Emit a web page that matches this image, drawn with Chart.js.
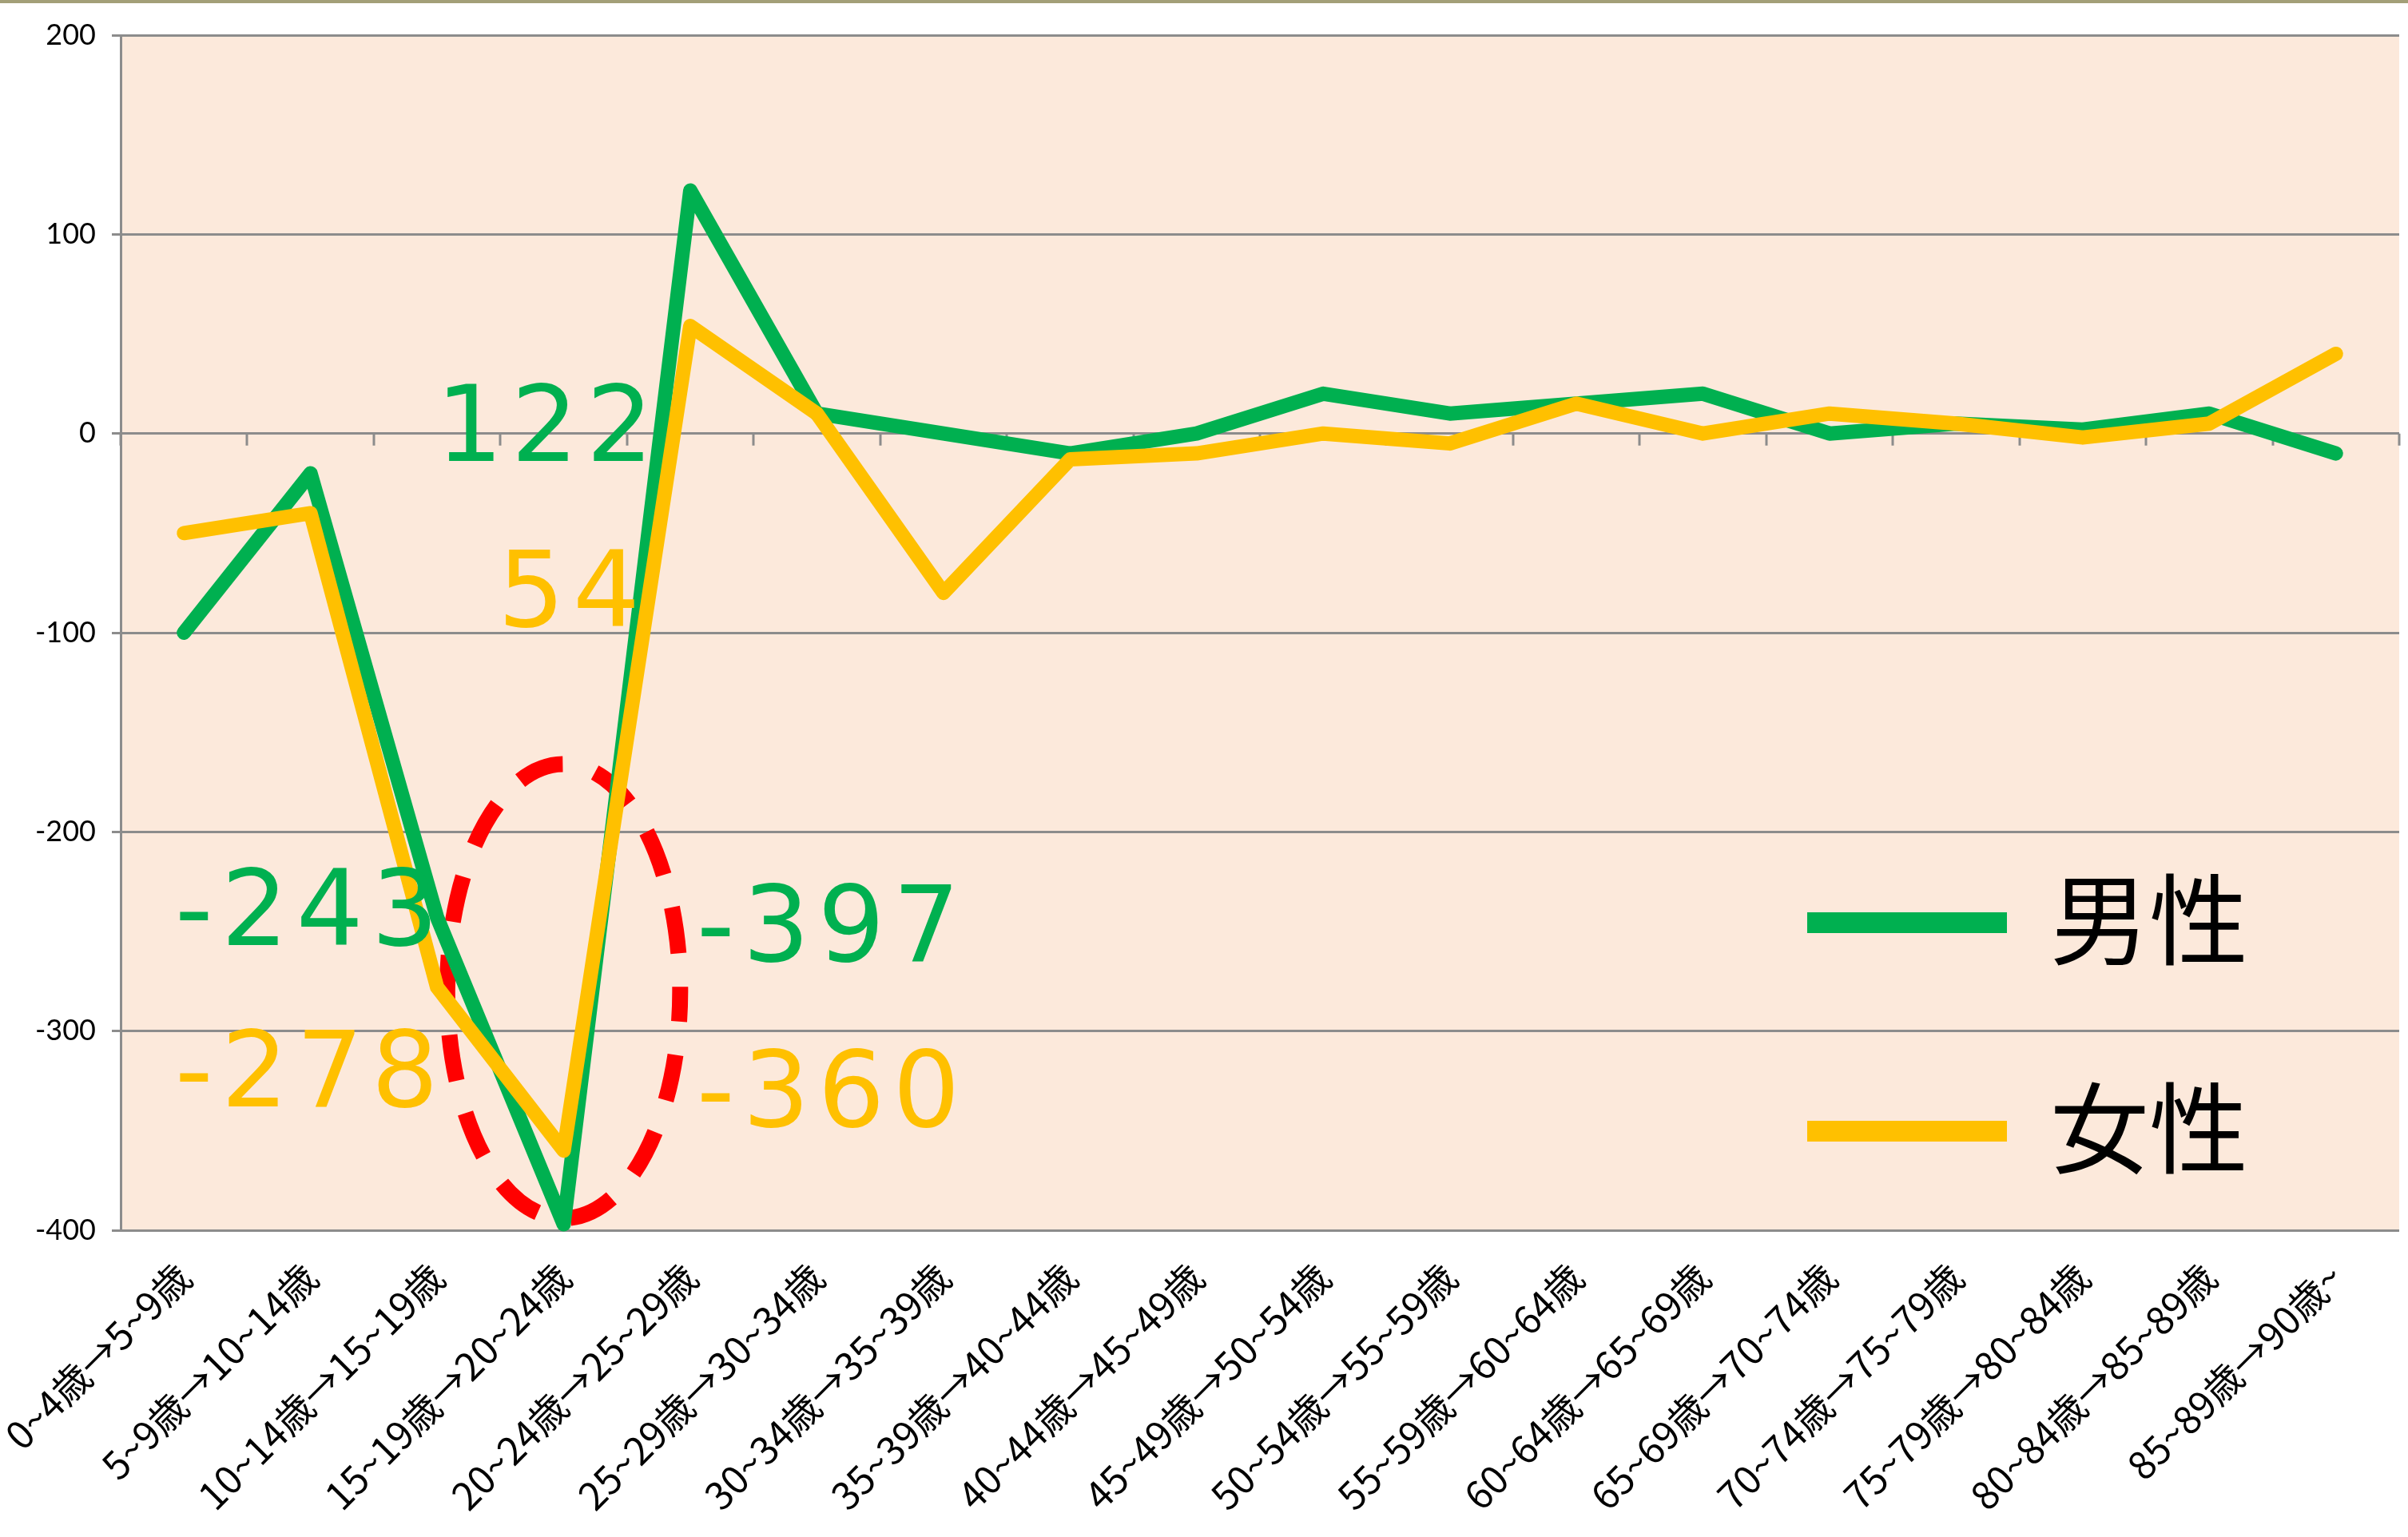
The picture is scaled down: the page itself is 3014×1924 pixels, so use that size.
<!DOCTYPE html>
<html lang="ja">
<head>
    <meta charset="UTF-8">
    <title>年齢階級別 純移動数</title>
    <style>
        body { margin: 0; background: #ffffff; }
        #wrap { width: 3014px; height: 1924px; }
    </style>
</head>
<body>
    <script src="https://cdn.jsdelivr.net/npm/chart.js@4.4.1/dist/chart.umd.min.js"></script>

    <div id="wrap">
        <canvas id="chart1" width="3014" height="1924"></canvas>
    </div>

    <script>
        // categories (cohort transitions)
        var categories = [
            '0~4歳→5~9歳', '5~9歳→10~14歳', '10~14歳→15~19歳', '15~19歳→20~24歳',
            '20~24歳→25~29歳', '25~29歳→30~34歳', '30~34歳→35~39歳', '35~39歳→40~44歳',
            '40~44歳→45~49歳', '45~49歳→50~54歳', '50~54歳→55~59歳', '55~59歳→60~64歳',
            '60~64歳→65~69歳', '65~69歳→70~74歳', '70~74歳→75~79歳', '75~79歳→80~84歳',
            '80~84歳→85~89歳', '85~89歳→90歳~'
        ];

        var maleValues   = [-100, -20, -243, -397, 122, 10, 0, -10, 0, 20, 10, 15, 20, 0, 5, 2, 10, -10];
        var femaleValues = [-50, -40, -278, -360, 54, 10, -80, -13, -10, 0, -5, 15, 0, 10, 5, -2, 5, 40];

        var yMin = -400;
        var yMax = 200;
        var yStep = 100;

        // callout labels: text, series, x (category index), y (value)
        var callouts = [
            { text: '122',  series: 0, x: 2.85, y: 0 },
            { text: '54',   series: 1, x: 3.04, y: -83 },
            { text: '-243', series: 0, x: 0.97, y: -243 },
            { text: '-278', series: 1, x: 0.97, y: -324 },
            { text: '-397', series: 0, x: 5.09, y: -251 },
            { text: '-360', series: 1, x: 5.09, y: -334 }
        ];

        var maleColor = '#00B050';
        var femaleColor = '#FFC000';
        var gridColor = '#8c8c8c';
        var plotColor = '#FCE9DB';

        var backgroundPlugin = {
            id: 'background',
            beforeDraw: function(chart) {
                var ctx = chart.ctx;
                var a = chart.chartArea;
                ctx.save();
                ctx.fillStyle = '#ffffff';
                ctx.fillRect(0, 0, chart.width, chart.height);
                ctx.fillStyle = '#a39f78';
                ctx.fillRect(0, 0, chart.width, 4);
                ctx.fillStyle = plotColor;
                ctx.fillRect(a.left, a.top, a.right - a.left, a.bottom - a.top);
                ctx.restore();
            }
        };

        // tick marks on the zero line between categories, the dashed ellipse, callouts, legend
        var overlayPlugin = {
            id: 'overlay',
            beforeDatasetsDraw: function(chart) {
                var ctx = chart.ctx;
                var x = chart.scales.x;
                var y = chart.scales.y;
                var y0 = y.getPixelForValue(0);
                ctx.save();
                ctx.strokeStyle = gridColor;
                ctx.lineWidth = 3;
                ctx.beginPath();
                for (var i = 0; i <= categories.length; i++) {
                    var px = Math.round(x.getPixelForValue(i - 0.5));
                    ctx.moveTo(px, y0);
                    ctx.lineTo(px, y0 + 15);
                }
                ctx.stroke();

                // red dashed ellipse around 15~19歳→20~24歳
                var cx = x.getPixelForValue(3);
                var cy = y.getPixelForValue(-280);
                var rx = x.getPixelForValue(3.92) - cx;
                var ry = y.getPixelForValue(-280 - 114) - cy;
                ctx.strokeStyle = '#FF0000';
                ctx.lineWidth = 20;
                ctx.setLineDash([58, 42]);
                ctx.lineDashOffset = 20;
                ctx.beginPath();
                ctx.ellipse(cx, cy, rx, ry, 0, 0, Math.PI * 2);
                ctx.stroke();
                ctx.restore();
            },
            afterDatasetsDraw: function(chart) {
                var ctx = chart.ctx;
                var x = chart.scales.x;
                var y = chart.scales.y;
                ctx.save();
                ctx.font = '132px "DejaVu Sans"';
                ctx.letterSpacing = '10px';
                ctx.textAlign = 'center';
                ctx.textBaseline = 'middle';
                callouts.forEach(function(c) {
                    ctx.fillStyle = chart.data.datasets[c.series].borderColor;
                    ctx.fillText(c.text, x.getPixelForValue(c.x) + 5, y.getPixelForValue(c.y));
                });
                ctx.restore();
            },
            afterDraw: function(chart) {
                // legend inside plot area
                var ctx = chart.ctx;
                ctx.save();
                ctx.font = '124px "Noto Sans CJK JP"';
                ctx.textAlign = 'left';
                ctx.textBaseline = 'middle';
                var rows = [1155, 1416];
                chart.data.datasets.forEach(function(ds, i) {
                    ctx.fillStyle = ds.borderColor;
                    ctx.fillRect(2262, rows[i] - 13, 250, 26);
                    ctx.fillStyle = '#000000';
                    ctx.fillText(ds.label, 2566, rows[i] - 4);
                });
                ctx.restore();
            }
        };

        var context1 = document.getElementById('chart1').getContext('2d');
        window.chart1 = new Chart(context1, {
            type: 'line',
            data: {
                labels: categories,
                datasets: [
                    {
                        label: '男性',
                        data: maleValues,
                        borderColor: maleColor,
                        backgroundColor: maleColor,
                        borderWidth: 18,
                        borderJoinStyle: 'round',
                        borderCapStyle: 'round',
                        pointRadius: 0,
                        tension: 0,
                        clip: false,
                        order: 1
                    },
                    {
                        label: '女性',
                        data: femaleValues,
                        borderColor: femaleColor,
                        backgroundColor: femaleColor,
                        borderWidth: 18,
                        borderJoinStyle: 'round',
                        borderCapStyle: 'round',
                        pointRadius: 0,
                        tension: 0,
                        clip: false,
                        order: 0
                    }
                ]
            },
            options: {
                responsive: false,
                animation: false,
                devicePixelRatio: 1,
                layout: {
                    padding: { top: 44, right: 11, left: 0, bottom: 0 }
                },
                plugins: {
                    legend: { display: false },
                    tooltip: { enabled: false }
                },
                scales: {
                    x: {
                        offset: true,
                        grid: { display: false, drawTicks: false },
                        border: { display: false },
                        ticks: {
                            color: '#000000',
                            font: { family: '"Noto Sans CJK JP"', size: 48 },
                            minRotation: 45,
                            maxRotation: 45,
                            autoSkip: false,
                            padding: 30
                        },
                        afterFit: function(scale) {
                            scale.height = 384;
                            scale.paddingLeft = 0;
                            scale.paddingRight = 0;
                        }
                    },
                    y: {
                        min: yMin,
                        max: yMax,
                        grid: {
                            color: gridColor,
                            lineWidth: 3,
                            tickLength: 11
                        },
                        border: { color: gridColor, width: 3 },
                        ticks: {
                            stepSize: yStep,
                            color: '#000000',
                            font: { family: 'Lato', size: 36 },
                            padding: 20
                        },
                        afterFit: function(scale) { scale.width = 151; }
                    }
                }
            },
            plugins: [backgroundPlugin, overlayPlugin]
        });
    </script>
</body>
</html>
